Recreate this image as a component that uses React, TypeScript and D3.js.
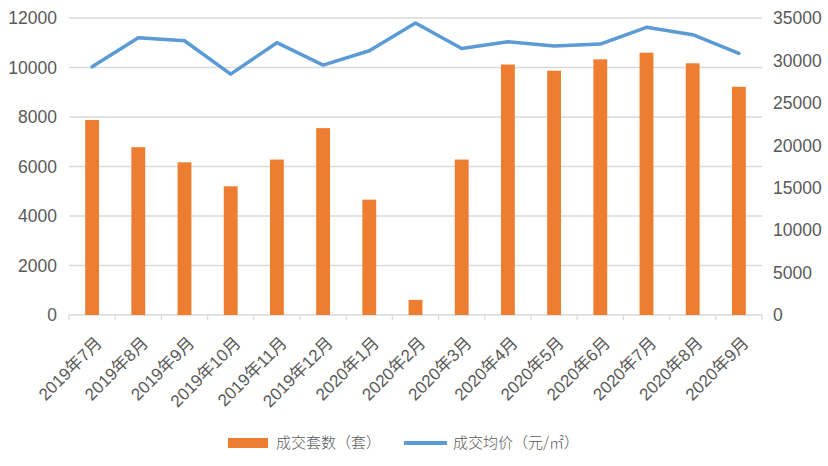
import React from 'react';
import * as d3 from 'd3';

const months = [
  '2019年7月', '2019年8月', '2019年9月', '2019年10月', '2019年11月', '2019年12月',
  '2020年1月', '2020年2月', '2020年3月', '2020年4月', '2020年5月', '2020年6月',
  '2020年7月', '2020年8月', '2020年9月',
];
// 成交套数（套）
const units = [7880, 6780, 6170, 5200, 6280, 7550, 4660, 610, 6280, 10120, 9870, 10330, 10600, 10170, 9220];
// 成交均价（元/㎡）
const prices = [29250, 32680, 32320, 28390, 32090, 29450, 31140, 34420, 31400, 32190, 31690, 31930, 33900, 33030, 30830];

const leftTicks = [0, 2000, 4000, 6000, 8000, 10000, 12000];
const rightTicks = [0, 5000, 10000, 15000, 20000, 25000, 30000, 35000];

const W = 828;
const H = 466;
const margin = { top: 18, right: 66, bottom: 151, left: 69 };
const textColor = '#595959';
const gridColor = '#d9d9d9';
const numFont = '"Liberation Sans", Arial, "Noto Sans CJK SC", sans-serif';

export default function App() {
  const innerW = W - margin.left - margin.right;
  const y0 = H - margin.bottom;

  const x = d3.scaleBand<string>()
    .domain(months)
    .range([margin.left, W - margin.right])
    .paddingInner(0.7)
    .paddingOuter(0.35);

  const step = innerW / months.length;
  const center = (i: number) => margin.left + step * (i + 0.5);

  const yL = d3.scaleLinear().domain([0, 12000]).range([y0, margin.top]);
  const yR = d3.scaleLinear().domain([0, 35000]).range([y0, margin.top]);

  const line = d3.line<number>()
    .x((_, i) => center(i))
    .y(d => yR(d));

  const bw = x.bandwidth();

  return (
    <svg width={W} height={H} style={{ position: 'absolute', left: 0, top: 0, background: '#fff' }}>
      {/* grid */}
      {leftTicks.map(t => (
        <line key={t} x1={margin.left} x2={W - margin.right} y1={yL(t)} y2={yL(t)}
          stroke={gridColor} strokeWidth={1.3} />
      ))}
      {/* category ticks */}
      {d3.range(months.length + 1).map(i => (
        <line key={i} x1={margin.left + step * i} x2={margin.left + step * i}
          y1={y0} y2={y0 + 5} stroke={gridColor} strokeWidth={1.3} />
      ))}
      {/* bars */}
      {units.map((v, i) => (
        <rect key={i} x={center(i) - bw / 2} y={yL(v)} width={bw} height={y0 - yL(v)} fill="#ed7d31" />
      ))}
      {/* line */}
      <path d={line(prices) || ''} fill="none" stroke="#5b9bd5" strokeWidth={3.5} strokeLinejoin="round" strokeLinecap="round" />
      {/* left axis */}
      {leftTicks.map(t => (
        <text key={t} x={57} y={yL(t)} dy="0.36em" textAnchor="end" fontSize={17.5}
          fontFamily={numFont} fill={textColor}>{t}</text>
      ))}
      {/* right axis */}
      {rightTicks.map(t => (
        <text key={t} x={773} y={yR(t)} dy="0.36em" textAnchor="start" fontSize={17.5}
          fontFamily={numFont} fill={textColor}>{t}</text>
      ))}
      {/* x labels */}
      {months.map((m, i) => (
        <text key={m} transform={`translate(${center(i) + 11},${y0 + 29}) rotate(-45)`}
          textAnchor="end" fontSize={17} fontFamily={numFont} fill={textColor}>{m}</text>
      ))}
      {/* legend */}
      <rect x={228} y={438} width={40} height={10} fill="#ed7d31" />
      <text x={276} y={443} dy="0.36em" fontSize={15} fontWeight={300} fontFamily='"Noto Sans CJK SC", sans-serif' fill={textColor}>成交套数（套）</text>
      <line x1={404} x2={447} y1={443} y2={443} stroke="#5b9bd5" strokeWidth={4} />
      <text x={453} y={443} dy="0.36em" fontSize={15} fontWeight={300} fontFamily='"Noto Sans CJK SC", sans-serif' fill={textColor}>成交均价（元/㎡）</text>
    </svg>
  );
}
